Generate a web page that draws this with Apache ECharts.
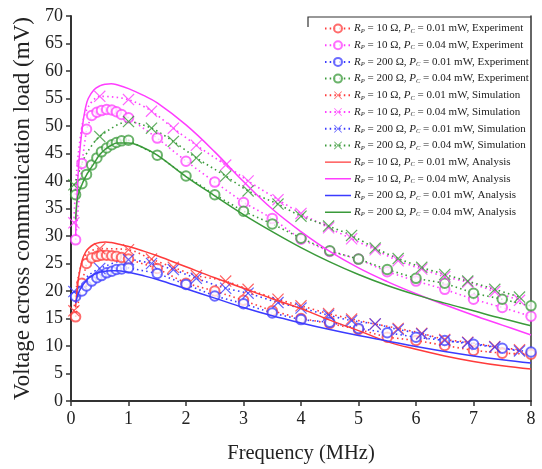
<!DOCTYPE html>
<html>
<head>
<meta charset="utf-8">
<script src="https://cdn.jsdelivr.net/npm/echarts@6/dist/echarts.min.js"></script>
<style>
  html, body { margin: 0; padding: 0; background: #fff; }
  #chart { width: 542px; height: 469px; }
</style>
</head>
<body>
<div id="chart"></div>
<script>
// Frequency sweeps (MHz)
var expFreq = [0.08, 0.19, 0.27, 0.36, 0.45, 0.53, 0.62, 0.71, 0.79, 0.88, 1.0,
  1.5, 2.0, 2.5, 3.0, 3.5, 4.0, 4.5, 5.0, 5.5, 6.0, 6.5, 7.0, 7.5, 8.0];
var simFreq = [0.05, 0.1, 0.2, 0.3, 0.5, 1.0, 1.4, 1.78, 2.18, 2.69, 3.08, 3.6, 4.0,
  4.48, 4.88, 5.29, 5.69, 6.1, 6.5, 6.9, 7.37, 7.8];
var simMarked = [1, 0, 0, 0, 1, 1, 1, 1, 1, 1, 1, 1, 1, 1, 1, 1, 1, 1, 1, 1, 1, 1];
var anaFreq = [0.08, 0.1, 0.12, 0.15, 0.2, 0.25, 0.3, 0.4, 0.5, 0.6, 0.7, 0.8, 1.0,
  1.25, 1.5, 2.0, 2.5, 3.0, 3.5, 4.0, 4.5, 5.0, 5.5, 6.0, 6.5, 7.0, 7.5, 8.0];

// Voltage across the communication load (mV)
var expR10P001 = [15.3, 21.4, 25.0, 26.0, 26.3, 26.5, 26.5, 26.4, 26.3, 26.1, 25.8,
  24.1, 21.4, 20.0, 18.3, 16.4, 15.0, 14.1, 13.0, 11.6, 11.0, 10.1, 9.2, 8.7, 8.5];
var expR10P004 = [29.3, 43.2, 49.4, 51.9, 52.5, 52.8, 53.0, 52.9, 52.6, 52.1, 51.5,
  47.8, 43.6, 39.8, 36.1, 33.2, 29.4, 27.2, 25.8, 23.5, 21.8, 20.3, 18.5, 17.0, 15.4];
var expR200P001 = [19.0, 20.0, 20.9, 21.8, 22.4, 22.8, 23.3, 23.6, 23.9, 24.0, 24.2,
  23.2, 21.2, 19.1, 17.7, 16.0, 14.8, 14.3, 13.2, 12.4, 11.6, 11.0, 10.3, 9.6, 8.9];
var expR200P004 = [37.5, 39.5, 41.2, 42.9, 44.2, 45.3, 46.0, 46.6, 47.0, 47.3, 47.4,
  44.7, 40.9, 37.5, 34.5, 32.2, 29.6, 27.3, 25.8, 23.9, 22.3, 21.4, 19.6, 18.5, 17.3];

var simR10P001 = [16.4, 21.0, 25.5, 27.0, 27.7, 27.5, 25.8, 24.3, 22.8, 21.8, 20.3,
  18.5, 17.3, 15.9, 14.9, 14.0, 13.2, 12.3, 11.2, 10.7, 9.9, 9.3];
var simR10P004 = [32.4, 42.0, 50.5, 53.5, 55.4, 54.8, 52.7, 49.6, 46.5, 42.9, 40.0,
  36.6, 34.1, 31.5, 29.5, 27.5, 25.5, 24.0, 22.6, 21.6, 19.9, 18.3];
var simR200P001 = [19.9, 19.5, 21.5, 22.8, 24.1, 25.7, 25.0, 23.9, 22.3, 20.5, 19.6,
  17.9, 16.9, 15.6, 14.6, 14.0, 13.0, 12.2, 11.0, 10.6, 9.8, 9.1];
var simR200P004 = [39.3, 40.5, 43.5, 45.5, 48.1, 50.8, 49.6, 47.2, 44.2, 40.9, 38.2,
  35.8, 33.6, 31.8, 30.1, 27.8, 25.9, 24.3, 23.0, 21.8, 20.3, 18.9];

var anaR10P001 = [17.0, 19.5, 21.5, 23.5, 25.8, 27.0, 27.7, 28.5, 28.8, 28.9, 28.8,
  28.6, 28.1, 27.3, 26.4, 24.4, 22.4, 20.5, 18.6, 16.8, 14.7, 12.8, 10.8, 9.4, 8.2,
  7.2, 6.4, 5.8];
var anaR10P004 = [30.0, 36.0, 40.5, 45.0, 50.0, 53.2, 55.0, 56.6, 57.3, 57.6, 57.7,
  57.5, 56.8, 55.6, 54.2, 50.2, 45.3, 39.9, 34.9, 30.8, 27.2, 24.2, 21.7, 19.5, 17.5,
  15.6, 13.8, 12.0];
var anaR200P001 = [17.8, 18.6, 19.3, 20.1, 21.0, 21.7, 22.3, 23.0, 23.4, 23.6, 23.7,
  23.7, 23.4, 22.8, 22.1, 20.4, 18.7, 17.0, 15.5, 14.2, 13.0, 11.9, 10.9, 9.9, 9.0,
  8.2, 7.5, 6.9];
var anaR200P004 = [33.0, 36.0, 37.3, 38.3, 39.6, 40.7, 41.6, 43.2, 44.8, 45.8, 46.5,
  46.9, 46.9, 46.1, 44.7, 40.8, 37.3, 33.9, 30.8, 27.9, 25.3, 23.0, 21.0, 19.3, 17.8,
  16.4, 15.0, 13.7];

var yTicks = [0, 5, 10, 15, 20, 25, 30, 35, 40, 45, 50, 55, 60, 65, 70];
var xTicks = [0, 1, 2, 3, 4, 5, 6, 7, 8];

var RED = '#ff3b3b', MAG = '#ff3dff', BLUE = '#3b3bff', GREEN = '#3a9a3a';
var CROSS = 'path://M0,0.7 L0.7,0 L5,4.3 L9.3,0 L10,0.7 L5.7,5 L10,9.3 L9.3,10 L5,5.7 L0.7,10 L0,9.3 L4.3,5 Z';
// plain line glyph for the analysis entries; tiny corner marks keep the icon box at full size
var LINE_ICON = 'path://M0,0 L0.01,0 L0,0.01 Z M0,4.3 L26,4.3 L26,5.7 L0,5.7 Z M26,10 L25.99,10 L26,9.99 Z';

function pairs(fs, vs) {
  return fs.map(function (f, i) { return [f, vs[i]]; });
}
function simPairs(vs) {
  return simFreq.map(function (f, i) {
    return simMarked[i] ? [f, vs[i]] : { value: [f, vs[i]], symbol: 'none' };
  });
}

function expSeries(id, color, vals) {
  return {
    name: id, type: 'line', data: pairs(expFreq, vals),
    symbol: 'emptyCircle', symbolSize: 9.5,
    itemStyle: { color: color, borderColor: color, borderWidth: 1, opacity: 0.75 },
    lineStyle: { color: color, width: 1.6, type: [1.5, 3.2] },
    z: 3
  };
}
function simSeries(id, color, vals) {
  return {
    name: id, type: 'line', data: simPairs(vals), smooth: 0.3,
    symbol: CROSS, symbolSize: 12,
    itemStyle: { color: color, opacity: 0.8 },
    lineStyle: { color: color, width: 1.6, type: [1.5, 3.2] },
    z: 3
  };
}
function anaSeries(id, color, vals) {
  return {
    name: id, type: 'line', data: pairs(anaFreq, vals), smooth: 0.4,
    showSymbol: false, symbol: 'none',
    itemStyle: { color: color },
    lineStyle: { color: color, width: 1.5 },
    z: 4
  };
}

var labels = {
  e1: ['10', '0.01', 'Experiment'], e2: ['10', '0.04', 'Experiment'],
  e3: ['200', '0.01', 'Experiment'], e4: ['200', '0.04', 'Experiment'],
  s1: ['10', '0.01', 'Simulation'], s2: ['10', '0.04', 'Simulation'],
  s3: ['200', '0.01', 'Simulation'], s4: ['200', '0.04', 'Simulation'],
  a1: ['10', '0.01', 'Analysis'], a2: ['10', '0.04', 'Analysis'],
  a3: ['200', '0.01', 'Analysis'], a4: ['200', '0.04', 'Analysis']
};

var chart = echarts.init(document.getElementById('chart'), null, { renderer: 'canvas' });
var SERIF = '"Liberation Serif", "Times New Roman", serif';

var legendData = ['e1', 'e2', 'e3', 'e4', 's1', 's2', 's3', 's4'].map(function (n) {
  return { name: n };
}).concat(['a1', 'a2', 'a3', 'a4'].map(function (n) {
  return { name: n, icon: LINE_ICON };
}));

chart.setOption({
  animation: false,
  backgroundColor: '#fff',
  textStyle: { fontFamily: SERIF },
  grid: { left: 71, right: 11, top: 16, bottom: 62.5, containLabel: false },
  legend: {
    orient: 'vertical', left: 324, top: 23,
    itemWidth: 26, itemHeight: 10, itemGap: 5.2, padding: 0,
    data: legendData,
    formatter: function (n) {
      var l = labels[n];
      return '{i|R}{s|P}{t| = ' + l[0] + ' Ω, }{i|P}{s|C}{t| = ' + l[1] + ' mW, ' + l[2] + '}';
    },
    textStyle: {
      fontFamily: SERIF, fontSize: 11, color: '#222', padding: [0, 0, 0, -2],
      rich: {
        t: { fontFamily: SERIF, fontSize: 11, color: '#222', lineHeight: 12 },
        i: { fontFamily: SERIF, fontSize: 11, fontStyle: 'italic', color: '#222', lineHeight: 12 },
        s: { fontFamily: SERIF, fontSize: 6.5, fontStyle: 'italic', color: '#222', lineHeight: 12, verticalAlign: 'bottom', padding: [4, 0, 0, 0] }
      }
    },
    selectedMode: false
  },
  xAxis: {
    type: 'value', min: xTicks[0], max: xTicks[xTicks.length - 1], interval: 1,
    name: 'Frequency (MHz)', nameLocation: 'middle', nameGap: 42,
    nameTextStyle: { fontFamily: SERIF, fontSize: 20.5, color: '#222' },
    axisLine: { show: true, onZero: false, lineStyle: { color: '#333', width: 2 } },
    axisTick: { show: true, inside: false, length: 5, lineStyle: { color: '#333', width: 1.5 } },
    axisLabel: { fontFamily: SERIF, fontSize: 18, color: '#222', margin: 9 },
    splitLine: { show: false }
  },
  yAxis: [{
    type: 'value', min: yTicks[0], max: yTicks[yTicks.length - 1], interval: 5,
    name: 'Voltage across communication load (mV)', nameLocation: 'middle', nameGap: 36,
    nameTextStyle: { fontFamily: SERIF, fontSize: 23, color: '#222' },
    axisLine: { show: true, onZero: false, lineStyle: { color: '#333', width: 2 } },
    axisTick: { show: true, inside: false, length: 5, lineStyle: { color: '#333', width: 1.5 } },
    axisLabel: { fontFamily: SERIF, fontSize: 18, color: '#222', margin: 8 },
    splitLine: { show: false }
  }, {
    type: 'value', position: 'right', min: 0, max: 70, interval: 5,
    axisLine: { show: true, onZero: false, lineStyle: { color: '#333', width: 1.5 } },
    axisTick: { show: false }, axisLabel: { show: false }, splitLine: { show: false }
  }],
  graphic: [{
    type: 'polyline', silent: true,
    shape: { points: [[308, 27], [308, 17], [531, 17]] },
    style: { stroke: '#333', lineWidth: 1.2, fill: null }
  }],
  series: [
    expSeries('e1', RED, expR10P001),
    expSeries('e2', MAG, expR10P004),
    expSeries('e3', BLUE, expR200P001),
    expSeries('e4', GREEN, expR200P004),
    simSeries('s1', RED, simR10P001),
    simSeries('s2', MAG, simR10P004),
    simSeries('s3', BLUE, simR200P001),
    simSeries('s4', GREEN, simR200P004),
    anaSeries('a1', RED, anaR10P001),
    anaSeries('a2', MAG, anaR10P004),
    anaSeries('a3', BLUE, anaR200P001),
    anaSeries('a4', GREEN, anaR200P004)
  ]
});
</script>
</body>
</html>
